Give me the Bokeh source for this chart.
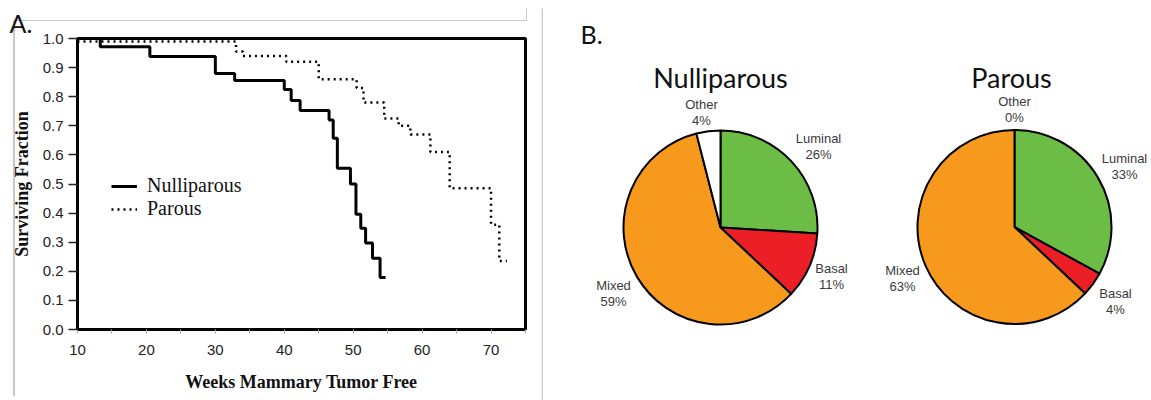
import math
from bokeh.plotting import figure
from bokeh.models import Range1d, FixedTicker, Legend, LegendItem
from bokeh.layouts import row
from bokeh.embed import file_html
from bokeh.resources import INLINE
from bokeh.core.properties import value

# ---------------- Panel A data (Kaplan-Meier style curves) ----------------
nulli_weeks = [10.0, 13.3, 20.5, 30.0, 32.8, 40.0, 41.0, 42.3, 46.5, 47.1, 47.7,
               49.6, 50.4, 51.1, 51.8, 52.8, 53.9, 54.7]
nulli_surv = [1.0, 0.972, 0.938, 0.88, 0.856, 0.825, 0.787, 0.753, 0.72, 0.657, 0.554,
              0.50, 0.396, 0.348, 0.297, 0.245, 0.179, 0.179]
parous_weeks = [10.0, 33.0, 34.0, 40.3, 45.0, 50.5, 51.5, 54.5, 56.6, 58.3, 61.2,
                64.0, 70.0, 71.2, 72.3]
parous_surv = [0.99, 0.955, 0.94, 0.92, 0.86, 0.83, 0.78, 0.725, 0.70, 0.67, 0.61,
               0.485, 0.36, 0.235, 0.235]
series_names = ["Nulliparous", "Parous"]

x_ticks = [10, 20, 30, 40, 50, 60, 70]
x_minor_ticks = [15, 25, 35, 45, 55, 65, 75]
y_ticks = [0.0, 0.1, 0.2, 0.3, 0.4, 0.5, 0.6, 0.7, 0.8, 0.9, 1.0]
y_tick_labels = ["0.0", "0.1", "0.2", "0.3", "0.4", "0.5", "0.6", "0.7", "0.8", "0.9", "1.0"]

# ---------------- Panel B data (pie charts) ----------------
pie_categories = ["Luminal", "Basal", "Mixed", "Other"]
nulli_pct = [26, 11, 59, 4]
parous_pct = [33, 4, 63, 0]
pie_colors = ["#6cbd45", "#ec1f27", "#f7991c", "#ffffff"]
pie_titles = ["Nulliparous", "Parous"]

SANS = "Liberation Sans"
SERIF = "Liberation Serif"
TITLE_FONT = "Lato"
GREY = "#c8c8c8"

# ================= Panel A =================
pa = figure(width=541, height=400, x_range=Range1d(10, 75), y_range=Range1d(0, 1),
            output_backend="svg", toolbar_location=None,
            min_border_left=77, min_border_right=16, min_border_top=38, min_border_bottom=71)
pa.grid.visible = False
pa.outline_line_color = "black"
pa.outline_line_width = 3
pa.outline_line_alpha = 1.0
pa.background_fill_color = "white"
pa.border_fill_alpha = 0  # let the host background (thin grey frame remnants) show
pa.styles = {
    "background-color": "white",
    "background-image": (f"linear-gradient({GREY}, {GREY}), "
                         f"linear-gradient({GREY}, {GREY}), "
                         f"linear-gradient({GREY}, {GREY})"),
    "background-size": "513px 1px, 2px 376px, 1px 13px",
    "background-position": "14px 20px, 13px 20px, 526px 8px",
    "background-repeat": "no-repeat",
}

# panel letter as the plot title, pushed to the left edge
pa.title.text = "A."
pa.title.align = "left"
pa.title.offset = -68
pa.title.text_font = TITLE_FONT
pa.title.text_font_size = "25px"
pa.title.text_font_style = "normal"
pa.title.text_color = "#111111"
pa.title.standoff = 2

xa = pa.xaxis[0]
xa.ticker = FixedTicker(ticks=x_ticks, minor_ticks=x_minor_ticks)
xa.axis_line_color = "black"
xa.axis_line_width = 3
xa.major_tick_line_color = "#aaaaaa"
xa.major_tick_out = 4
xa.major_tick_in = 0
xa.minor_tick_line_color = "#aaaaaa"
xa.minor_tick_out = 4
xa.minor_tick_in = 0
xa.major_label_text_font = SANS
xa.major_label_text_font_size = "15px"
xa.major_label_text_color = "#222222"
xa.major_label_standoff = 11
xa.axis_label = "Weeks Mammary Tumor Free"
xa.axis_label_text_font = SERIF
xa.axis_label_text_font_style = "bold"
xa.axis_label_text_font_size = "18px"
xa.axis_label_text_color = "#111111"
xa.axis_label_standoff = 14

ya = pa.yaxis[0]
ya.ticker = FixedTicker(ticks=y_ticks, minor_ticks=[])
ya.major_label_overrides = dict(zip(y_ticks, y_tick_labels))
ya.axis_line_color = "black"
ya.axis_line_width = 3
ya.major_tick_line_color = "#222222"
ya.major_tick_line_width = 1.5
ya.major_tick_out = 9
ya.major_tick_in = 0
ya.major_label_text_font = SANS
ya.major_label_text_font_size = "15px"
ya.major_label_text_color = "#222222"
ya.major_label_standoff = 5
ya.axis_label = "Surviving Fraction"
ya.axis_label_text_font = SERIF
ya.axis_label_text_font_style = "bold"
ya.axis_label_text_font_size = "18px"
ya.axis_label_text_color = "#111111"
ya.axis_label_standoff = 8

r_n = pa.step(nulli_weeks, nulli_surv, mode="after", line_color="black", line_width=3)
r_p = pa.step(parous_weeks, parous_surv, mode="after", line_color="black",
              line_width=2.5, line_dash="2 4")

legend = Legend(items=[LegendItem(label=series_names[0], renderers=[r_n]),
                       LegendItem(label=series_names[1], renderers=[r_p])],
                location=(34, 109), orientation="vertical", padding=0, margin=0, spacing=0,
                glyph_width=26, glyph_height=22, label_height=22, label_standoff=10,
                label_text_font=SERIF, label_text_font_size="20px", label_text_color="#111111",
                border_line_color=None, background_fill_alpha=0)
pa.add_layout(legend)

# ================= Panel B =================
pb = figure(width=610, height=400, x_range=Range1d(541, 1151), y_range=Range1d(0, 400),
            output_backend="svg", toolbar_location=None, min_border=0,
            x_axis_location=None, y_axis_location=None)
pb.grid.visible = False
pb.outline_line_color = None
pb.background_fill_color = "white"
pb.border_fill_color = "white"

for fig in (pa, pb):
    try:
        fig.frame_align = False
    except AttributeError:
        pass

H = 400  # page height, used to convert top-down page positions
pb.segment(x0=[541.7], y0=[0], x1=[541.7], y1=[H - 8], line_color=GREY, line_width=1.5)
pb.text(x=[580], y=[H - 33], text=["B."], text_font=value(TITLE_FONT), text_font_size="25px",
        text_color="#111111", text_baseline="alphabetic", text_align="left")

centers = [(720, H - 227), (1014, H - 226.5)]
radius = 97
label_pos = [
    [(818, 138), (831, 268), (613, 285), (701, 104)],
    [(1124, 158), (1115, 293), (902, 270), (1014, 101)],
]
for k, pct in enumerate([nulli_pct, parous_pct]):
    cx, cy = centers[k]
    starts, ends, cols = [], [], []
    cum = 0
    for v, c in zip(pct, pie_colors):
        a0 = math.pi / 2 - 2 * math.pi * cum / 100
        cum += v
        a1 = math.pi / 2 - 2 * math.pi * cum / 100
        if v > 0:
            starts.append(a0)
            ends.append(a1)
            cols.append(c)
    pb.wedge(x=[cx] * len(starts), y=[cy] * len(starts), radius=radius,
             start_angle=starts, end_angle=ends, direction="clock",
             fill_color=cols, line_color="black", line_width=2)
    pb.text(x=[cx if k == 0 else cx - 3], y=[H - 77], text=[pie_titles[k]],
            text_font=value(TITLE_FONT), text_font_size="27px", text_color="#111111",
            text_align="center", text_baseline="alphabetic")
    lx = [p[0] for p in label_pos[k]]
    ly = [H - p[1] for p in label_pos[k]]
    ly2 = [H - p[1] - 16 for p in label_pos[k]]
    pb.text(x=lx, y=ly, text=pie_categories, text_font=value(SANS), text_font_size="13px",
            text_color="#3a3a3a", text_align="center", text_baseline="middle")
    pb.text(x=lx, y=ly2, text=[f"{v}%" for v in pct], text_font=value(SANS),
            text_font_size="13px", text_color="#3a3a3a", text_align="center",
            text_baseline="middle")

layout = row(pa, pb, spacing=0)
open("out.html", "w").write(file_html(layout, INLINE))
